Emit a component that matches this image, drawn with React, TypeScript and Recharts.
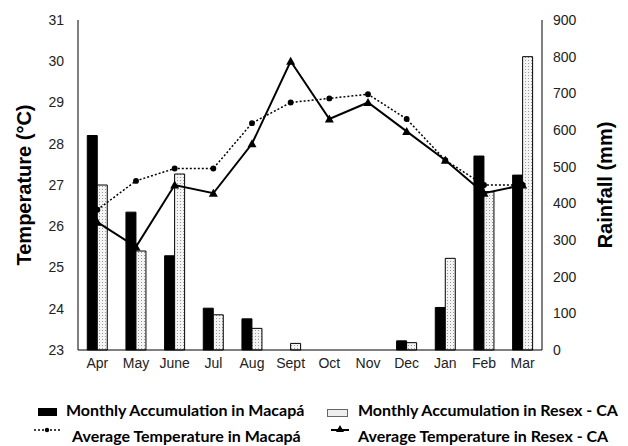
import { ComposedChart, Bar, Line, XAxis, YAxis } from "recharts";

const months = ["Apr", "May", "June", "Jul", "Aug", "Sept", "Oct", "Nov", "Dec", "Jan", "Feb", "Mar"];
const rainMacapa = [585, 376, 257, 114, 85, 0, 0, 0, 25, 116, 529, 477];
const rainResex = [450, 270, 480, 96, 59, 18, 0, 0, 20, 250, 432, 800];
const tempMacapa = [26.4, 27.1, 27.4, 27.4, 28.5, 29.0, 29.1, 29.2, 28.6, 27.6, 27.0, 27.0];
const tempResex = [26.1, 25.5, 27.0, 26.8, 28.0, 30.0, 28.6, 29.0, 28.3, 27.6, 26.8, 27.0];
const tempTicks = [23, 24, 25, 26, 27, 28, 29, 30, 31];
const rainTicks = [0, 100, 200, 300, 400, 500, 600, 700, 800, 900];

const data = months.map((m, i) => ({
  month: m,
  rainMacapa: rainMacapa[i],
  rainResex: rainResex[i],
  tempMacapa: tempMacapa[i],
  tempResex: tempResex[i],
}));

const font = "'Liberation Sans', Arial, sans-serif";
const tick = { fontSize: 14, fill: "#222", fontFamily: font };

const Triangle = (props: any) => {
  const { cx, cy, index } = props;
  if (cx == null || cy == null) return <g key={index} />;
  return <path key={index} d={`M${cx},${cy - 4.5} L${cx + 4.5},${cy + 3.5} L${cx - 4.5},${cy + 3.5} Z`} fill="#000" />;
};

const sideLabel = (text: string, x: number) => (props: any) => {
  const vb = props.viewBox;
  const y = vb.y + vb.height / 2;
  return (
    <text x={x} y={y} transform={`rotate(-90, ${x}, ${y})`} textAnchor="middle" dominantBaseline="central"
      fontSize={20} fontWeight="bold" fontFamily={font} fill="#000">
      {text}
    </text>
  );
};

const legendText = { fontFamily: "Lato, 'Open Sans', sans-serif", fontWeight: 700, fontSize: 16, color: "#000" };

export default function App() {
  return (
    <div style={{ position: "absolute", left: 0, top: 0, width: 628, height: 446, background: "#fff" }}>
      <ComposedChart width={628} height={380} data={data} margin={{ top: 20, right: 0, bottom: 0, left: 0 }}
        barGap={0} barCategoryGap="24%">
        <defs>
          <pattern id="stipple" width="3" height="3" patternUnits="userSpaceOnUse">
            <rect width="3" height="3" fill="#f4f4f4" />
            <rect x="0" y="0" width="1" height="1" fill="#999" />
          </pattern>
        </defs>
        <XAxis dataKey="month" tick={tick} tickLine={false} axisLine={{ stroke: "#000" }} height={30} />
        <YAxis yAxisId="temp" domain={[23, 31]} ticks={tempTicks} tick={tick} tickLine={false}
          axisLine={{ stroke: "#000" }} width={78} tickMargin={8}
          label={{ content: sideLabel("Temperature (°C)", 24) }} />
        <YAxis yAxisId="rain" orientation="right" domain={[0, 900]} ticks={rainTicks} tick={tick}
          tickLine={false} axisLine={{ stroke: "#000" }} width={86} tickMargin={5}
          label={{ content: sideLabel("Rainfall (mm)", 605) }} />
        <Bar yAxisId="rain" dataKey="rainMacapa" fill="#000" stroke="#000" isAnimationActive={false} />
        <Bar yAxisId="rain" dataKey="rainResex" fill="url(#stipple)" stroke="#000" strokeWidth={1} isAnimationActive={false} />
        <Line yAxisId="temp" dataKey="tempMacapa" stroke="#000" strokeWidth={1.5} strokeDasharray="2 2"
          dot={{ r: 2.2, fill: "#000", stroke: "#000", strokeDasharray: "" }} isAnimationActive={false} />
        <Line yAxisId="temp" dataKey="tempResex" stroke="#000" strokeWidth={2} dot={Triangle} isAnimationActive={false} />
      </ComposedChart>
      <div style={{ position: "absolute", left: 0, top: 400, width: 628 }}>
        <div style={{ position: "absolute", left: 38, top: 8, width: 19, height: 8, background: "#000" }} />
        <div style={{ position: "absolute", left: 66, top: 0, ...legendText }}>Monthly Accumulation in Macapá</div>
        <div style={{ position: "absolute", left: 327, top: 9, width: 19, height: 6, border: "1px solid #666", background: "#eee" }} />
        <div style={{ position: "absolute", left: 358, top: 0, ...legendText }}>Monthly Accumulation in Resex - CA</div>
        <svg style={{ position: "absolute", left: 33, top: 25 }} width={28} height={14}>
          <line x1={1} y1={5} x2={27} y2={5} stroke="#000" strokeWidth={1.5} strokeDasharray="2 2" />
          <circle cx={14} cy={5} r={2.2} fill="#000" />
        </svg>
        <div style={{ position: "absolute", left: 72, top: 26, ...legendText }}>Average Temperature in Macapá</div>
        <svg style={{ position: "absolute", left: 330, top: 22, overflow: "visible" }} width={20} height={14}>
          <line x1={1} y1={8} x2={19} y2={8} stroke="#000" strokeWidth={2} />
          <path d="M10,3 L14,10 L6,10 Z" fill="#000" />
        </svg>
        <div style={{ position: "absolute", left: 358, top: 26, ...legendText }}>Average Temperature in Resex - CA</div>
      </div>
    </div>
  );
}
